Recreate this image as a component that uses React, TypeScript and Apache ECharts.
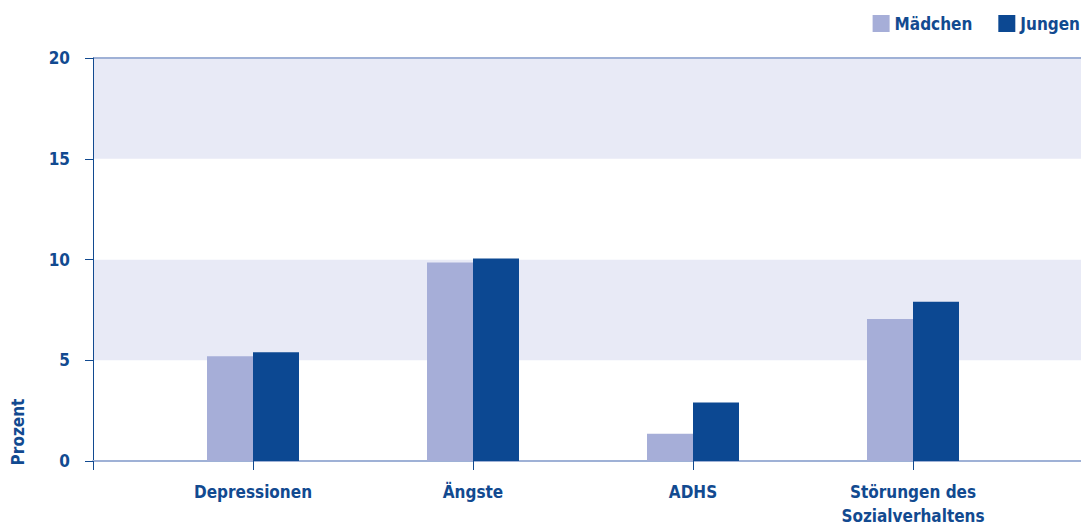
import React, { useEffect, useRef } from "react";
import * as echarts from "echarts";

const categories = ["Depressionen", "Ängste", "ADHS", "Störungen des\nSozialverhaltens"];
const maedchen = [5.2, 9.85, 1.35, 7.05];
const jungen = [5.4, 10.05, 2.9, 7.9];
const seriesNames = ["Mädchen", "Jungen"];
const yTicks = { min: 0, max: 20, interval: 5 };

const DARK = "#124a90";
const FONT = "'DejaVu Sans Condensed', 'DejaVu Sans', sans-serif";

export default function App() {
  const ref = useRef<HTMLDivElement>(null);
  useEffect(() => {
    const chart = echarts.init(ref.current!, null, { renderer: "svg" });
    chart.setOption({
      animation: false,
      backgroundColor: "#ffffff",
      textStyle: { fontFamily: FONT },
      legend: {
        data: seriesNames,
        right: 1,
        top: 15,
        padding: 0,
        itemWidth: 17,
        itemHeight: 17,
        itemGap: 26,
        icon: "rect",
        textStyle: { color: DARK, fontSize: 17, fontWeight: "bold", fontFamily: FONT },
      },
      grid: [
        { left: 93, right: 0, top: 58, bottom: 65, outerBoundsMode: "none", containLabel: false },
        { left: 143, right: 58, top: 58, bottom: 65, outerBoundsMode: "none", containLabel: false },
      ],
      xAxis: [
        {
          gridIndex: 0,
          type: "value",
          min: 0,
          max: 1,
          interval: 1,
          axisLine: { show: true, lineStyle: { color: "#9fb1d6", width: 2 } },
          axisTick: { show: true, customValues: [0], length: 9, lineStyle: { color: DARK } },
          axisLabel: { show: false },
          splitLine: { show: false },
        },
        {
          gridIndex: 1,
          type: "category",
          data: categories,
          axisLine: { show: false },
          axisTick: { show: true, alignWithLabel: true, length: 9, lineStyle: { color: DARK } },
          axisLabel: {
            color: DARK,
            fontSize: 17,
            fontWeight: "bold",
            fontFamily: FONT,
            margin: 19,
            lineHeight: 24,
            interval: 0,
          },
        },
      ],
      yAxis: [
        {
          gridIndex: 0,
          type: "value",
          min: yTicks.min,
          max: yTicks.max,
          interval: yTicks.interval,
          axisLine: { show: true, lineStyle: { color: DARK, width: 1 } },
          axisTick: { show: true, length: 8, lineStyle: { color: DARK } },
          axisLabel: {
            color: DARK,
            fontSize: 17,
            fontWeight: "bold",
            fontFamily: FONT,
            margin: 23,
          },
          splitLine: {
            show: true,
            lineStyle: {
              color: ["transparent", "transparent", "transparent", "transparent", "#9fb1d6"],
              width: 2,
            },
          },
          splitArea: {
            show: true,
            areaStyle: { color: ["#ffffff", "#e8eaf6", "#ffffff", "#e8eaf6"] },
          },
        },
        {
          gridIndex: 1,
          type: "value",
          min: yTicks.min,
          max: yTicks.max,
          interval: yTicks.interval,
          show: false,
        },
      ],
      graphic: [
        {
          type: "text",
          x: 18,
          y: 432,
          rotation: Math.PI / 2,
          style: {
            text: "Prozent",
            fill: DARK,
            font: `bold 17px ${FONT}`,
            align: "center",
            verticalAlign: "middle",
          },
        },
      ],
      series: [
        {
          name: seriesNames[0],
          type: "bar",
          xAxisIndex: 1,
          yAxisIndex: 1,
          data: maedchen,
          barWidth: 46,
          barGap: "0%",
          itemStyle: { color: "#a6aed8" },
        },
        {
          name: seriesNames[1],
          type: "bar",
          xAxisIndex: 1,
          yAxisIndex: 1,
          data: jungen,
          barWidth: 46,
          barGap: "0%",
          itemStyle: { color: "#0c4892" },
        },
      ],
    });
    return () => chart.dispose();
  }, []);
  return <div ref={ref} style={{ width: 1081, height: 526, position: "absolute", left: 0, top: 0 }} />;
}
